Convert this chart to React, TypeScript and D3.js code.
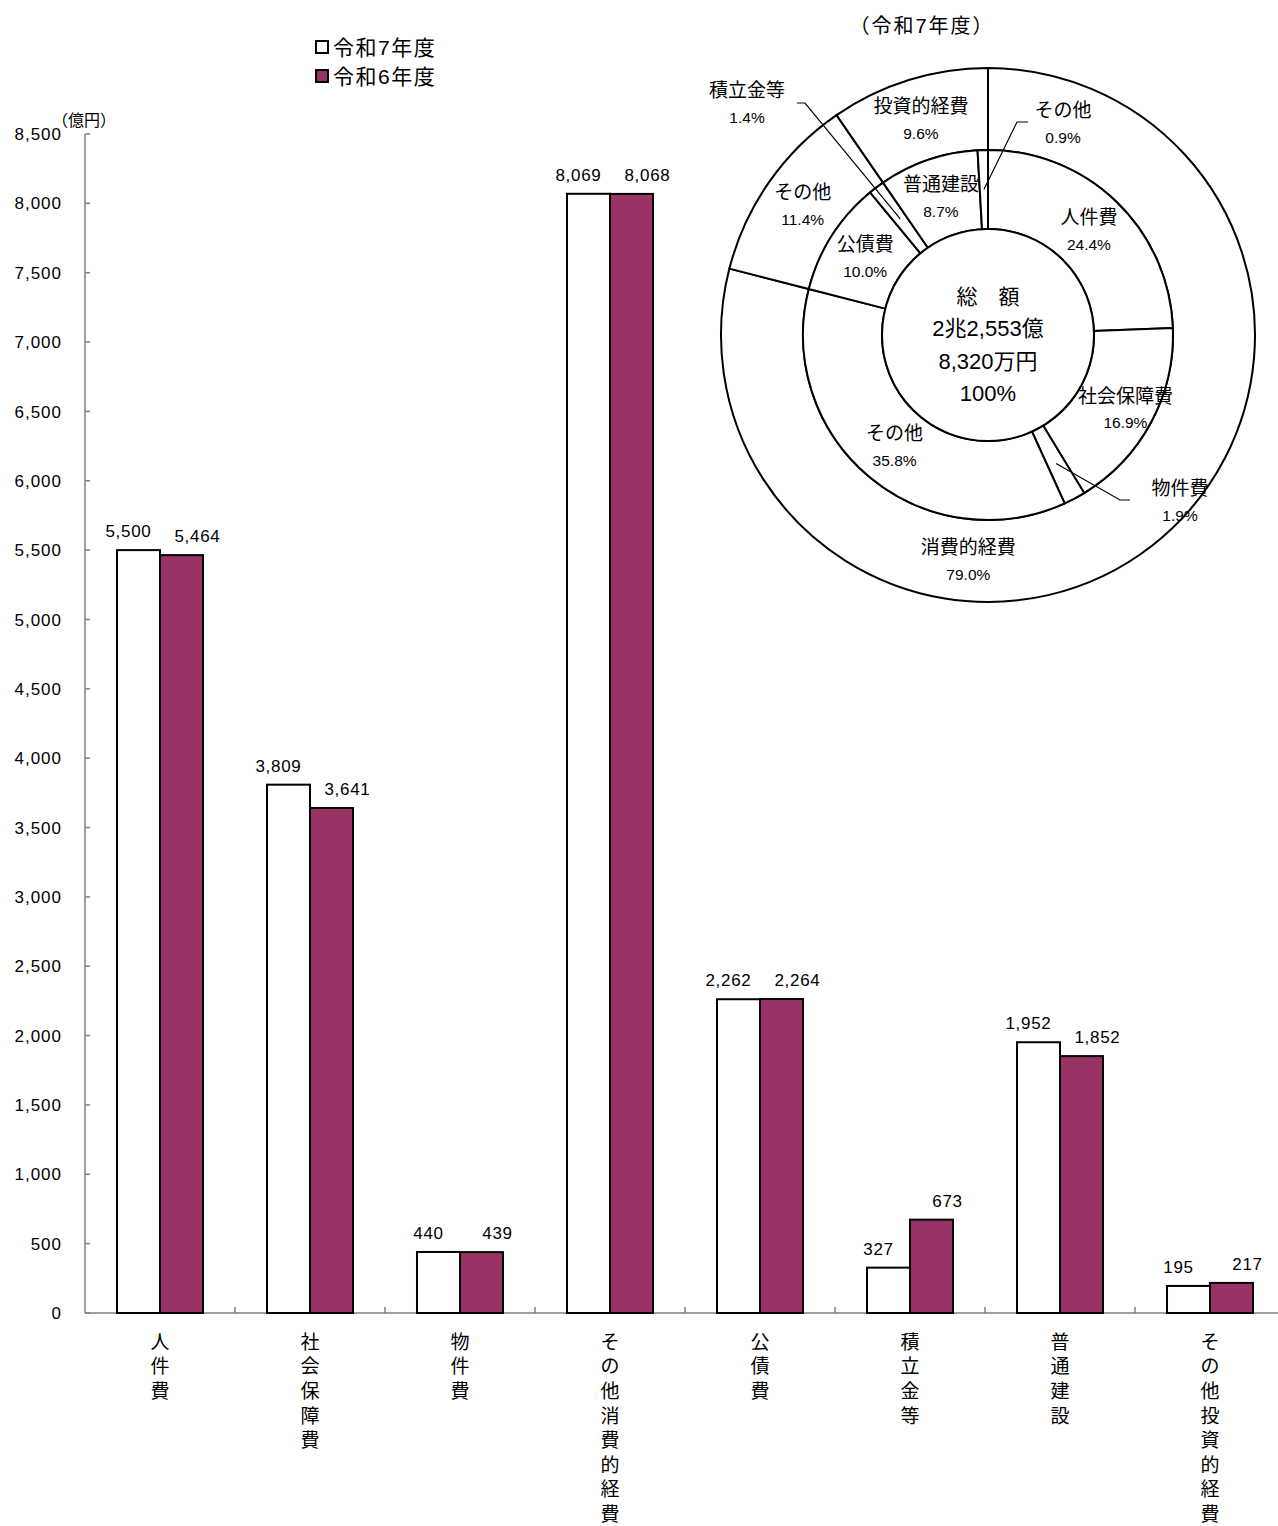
import React from "react";
import * as d3 from "d3";

const categories = ["人件費", "社会保障費", "物件費", "その他消費的経費", "公債費", "積立金等", "普通建設", "その他投資的経費"];
const valuesR7 = [5500, 3809, 440, 8069, 2262, 327, 1952, 195];
const valuesR6 = [5464, 3641, 439, 8068, 2264, 673, 1852, 217];
const seriesNames = ["令和7年度", "令和6年度"];
const yTicks = [0, 500, 1000, 1500, 2000, 2500, 3000, 3500, 4000, 4500, 5000, 5500, 6000, 6500, 7000, 7500, 8000, 8500];

const outerLabels = ["消費的経費", "その他", "投資的経費"];
const outerValues = [79.0, 11.4, 9.6];
const middleLabels = ["人件費", "社会保障費", "物件費", "その他", "公債費", "積立金等", "普通建設", "その他"];
const middleValues = [24.4, 16.9, 1.9, 35.8, 10.0, 1.4, 8.7, 0.9];
const centerLines = ["総　額", "2兆2,553億", "8,320万円", "100%"];

const PURPLE = "#993366";
const FONT = "'Liberation Sans', Arial, 'Noto Sans CJK JP', sans-serif";

export default function App() {
  const W = 1278, H = 1526;
  const left = 85, right = 1285, top = 134, bottom = 1313;
  const x = d3.scaleBand<string>().domain(categories).range([left, right]).paddingInner(0.4267).paddingOuter(0.2133);
  const x1 = d3.scaleBand<string>().domain(seriesNames).range([0, x.bandwidth()]);
  const y = d3.scaleLinear().domain([0, 8500]).range([bottom, top]);
  const step = x.step();
  const labelShift = [-10, 16];

  // Pie
  const cx = 988, cy = 335;
  const rOuter = 267, rMid = 185, rInner = 106;
  const pie = d3.pie<number>().sort(null).value((d) => d).startAngle(0).endAngle(2 * Math.PI);
  const outerArcs = pie(outerValues);
  const midArcs = pie(middleValues);
  const arcOuter = d3.arc<d3.PieArcDatum<number>>().innerRadius(rMid).outerRadius(rOuter);
  const arcMid = d3.arc<d3.PieArcDatum<number>>().innerRadius(rInner).outerRadius(rMid);

  const polar = (angle: number, r: number) => [Math.sin(angle) * r, -Math.cos(angle) * r];

  const outerPos = outerArcs.map((a, i) => {
    if (i === 0) return polar((185 * Math.PI) / 180, (rMid + rOuter) / 2);
    return arcOuter.centroid(a);
  });
  const midPos: (number[] | null)[] = midArcs.map((a, i) => {
    if (i === 1) return polar((a.startAngle + a.endAngle) / 2, 156);
    if (i === 2 || i === 5 || i === 7) return null;
    return arcMid.centroid(a);
  });
  const callouts = [
    { i: 2, lx: 192, ly: 167, ex: 132, ey: 165, tx: 142, ty: 165 },
    { i: 5, lx: -241, ly: -231, ex: -183, ey: -232, tx: -191, ty: -232 },
    { i: 7, lx: 75, ly: -211, ex: 29, ey: -213, tx: 40, ty: -213 },
  ];

  return (
    <svg width={W} height={H} style={{ position: "absolute", left: 0, top: 0, background: "#fff" }} fontFamily={FONT}>
      <rect width={W} height={H} fill="#fff" />
      {/* Legend */}
      {seriesNames.map((s, i) => (
        <g key={s}>
          <rect x={316} y={41 + i * 29} width={12} height={12} fill={i === 0 ? "#fff" : PURPLE} stroke="#000" strokeWidth={2} />
          <text x={333} y={47 + i * 29} dy="0.36em" fontSize={21} letterSpacing={1.5} fill="#000">{s}</text>
        </g>
      ))}
      {/* axes */}
      <line x1={left} x2={left} y1={top} y2={bottom} stroke="#808080" strokeWidth={1.5} />
      <line x1={left} x2={right} y1={bottom} y2={bottom} stroke="#808080" strokeWidth={1.5} />
      {yTicks.map((t) => (
        <g key={t}>
          <line x1={left} x2={left + 5} y1={y(t)} y2={y(t)} stroke="#808080" strokeWidth={1.5} />
          <text x={62} y={y(t)} dy="0.36em" textAnchor="end" fontSize={17} letterSpacing={1} fill="#000">{d3.format(",")(t)}</text>
        </g>
      ))}
      <text x={84} y={120} dy="0.36em" textAnchor="middle" fontSize={16} fill="#000">（億円）</text>
      {categories.map((c, i) => (
        <line key={"tk" + i} x1={left + step * (i + 1)} x2={left + step * (i + 1)} y1={bottom} y2={bottom - 6} stroke="#808080" strokeWidth={1.5} />
      ))}
      {/* bars */}
      {categories.map((c, i) => {
        const vals = [valuesR7[i], valuesR6[i]];
        return (
          <g key={c}>
            {vals.map((v, j) => {
              const bx = (x(c) as number) + (x1(seriesNames[j]) as number);
              const bw = x1.bandwidth();
              return (
                <g key={j}>
                  <rect x={bx} y={y(v)} width={bw} height={bottom - y(v)} fill={j === 0 ? "#fff" : PURPLE} stroke="#000" strokeWidth={2} />
                  <text x={bx + bw / 2 + labelShift[j]} y={y(v) - 13} textAnchor="middle" fontSize={17} letterSpacing={0.7} fill="#000">{d3.format(",")(v)}</text>
                </g>
              );
            })}
            {Array.from(c).map((ch, k) => (
              <text key={k} x={(x(c) as number) + x.bandwidth() / 2} y={1342 + k * 24.6} dy="0.36em" textAnchor="middle" fontSize={19} fill="#000">{ch}</text>
            ))}
          </g>
        );
      })}
      {/* pie */}
      <text x={922} y={26} dy="0.36em" textAnchor="middle" fontSize={20} letterSpacing={2} fill="#000">（令和7年度）</text>
      <g transform={`translate(${cx},${cy})`}>
        {outerArcs.map((a, i) => (
          <path key={"o" + i} d={arcOuter(a) as string} fill="#fff" stroke="#000" strokeWidth={2} />
        ))}
        {midArcs.map((a, i) => (
          <path key={"m" + i} d={arcMid(a) as string} fill="#fff" stroke="#000" strokeWidth={2} />
        ))}
        <circle r={rInner} fill="#fff" stroke="#000" strokeWidth={2} />
        {centerLines.map((t, i) => (
          <text key={t} x={0} y={-39 + i * 32.5} dy="0.36em" textAnchor="middle" fontSize={i === 0 ? 21 : 22} fill="#000">{t}</text>
        ))}
        {outerArcs.map((a, i) => (
          <g key={"ol" + i}>
            <text x={outerPos[i][0]} y={outerPos[i][1] - 13} dy="0.36em" textAnchor="middle" fontSize={19} fill="#000">{outerLabels[i]}</text>
            <text x={outerPos[i][0]} y={outerPos[i][1] + 14} dy="0.36em" textAnchor="middle" fontSize={15.5} fill="#000">{outerValues[i].toFixed(1)}%</text>
          </g>
        ))}
        {midArcs.map((a, i) => {
          const p = midPos[i];
          if (!p) return null;
          return (
            <g key={"ml" + i}>
              <text x={p[0]} y={p[1] - 13} dy="0.36em" textAnchor="middle" fontSize={19} fill="#000">{middleLabels[i]}</text>
              <text x={p[0]} y={p[1] + 14} dy="0.36em" textAnchor="middle" fontSize={15.5} fill="#000">{middleValues[i].toFixed(1)}%</text>
            </g>
          );
        })}
        {callouts.map((c) => {
          const a = midArcs[c.i];
          const [sx, sy] = arcMid.centroid(a);
          return (
            <g key={"c" + c.i}>
              <polyline points={`${sx},${sy} ${c.ex},${c.ey} ${c.tx},${c.ty}`} fill="none" stroke="#000" strokeWidth={1.2} />
              <text x={c.lx} y={c.ly - 14} dy="0.36em" textAnchor="middle" fontSize={19} fill="#000">{middleLabels[c.i]}</text>
              <text x={c.lx} y={c.ly + 13} dy="0.36em" textAnchor="middle" fontSize={15.5} fill="#000">{middleValues[c.i].toFixed(1)}%</text>
            </g>
          );
        })}
      </g>
    </svg>
  );
}
